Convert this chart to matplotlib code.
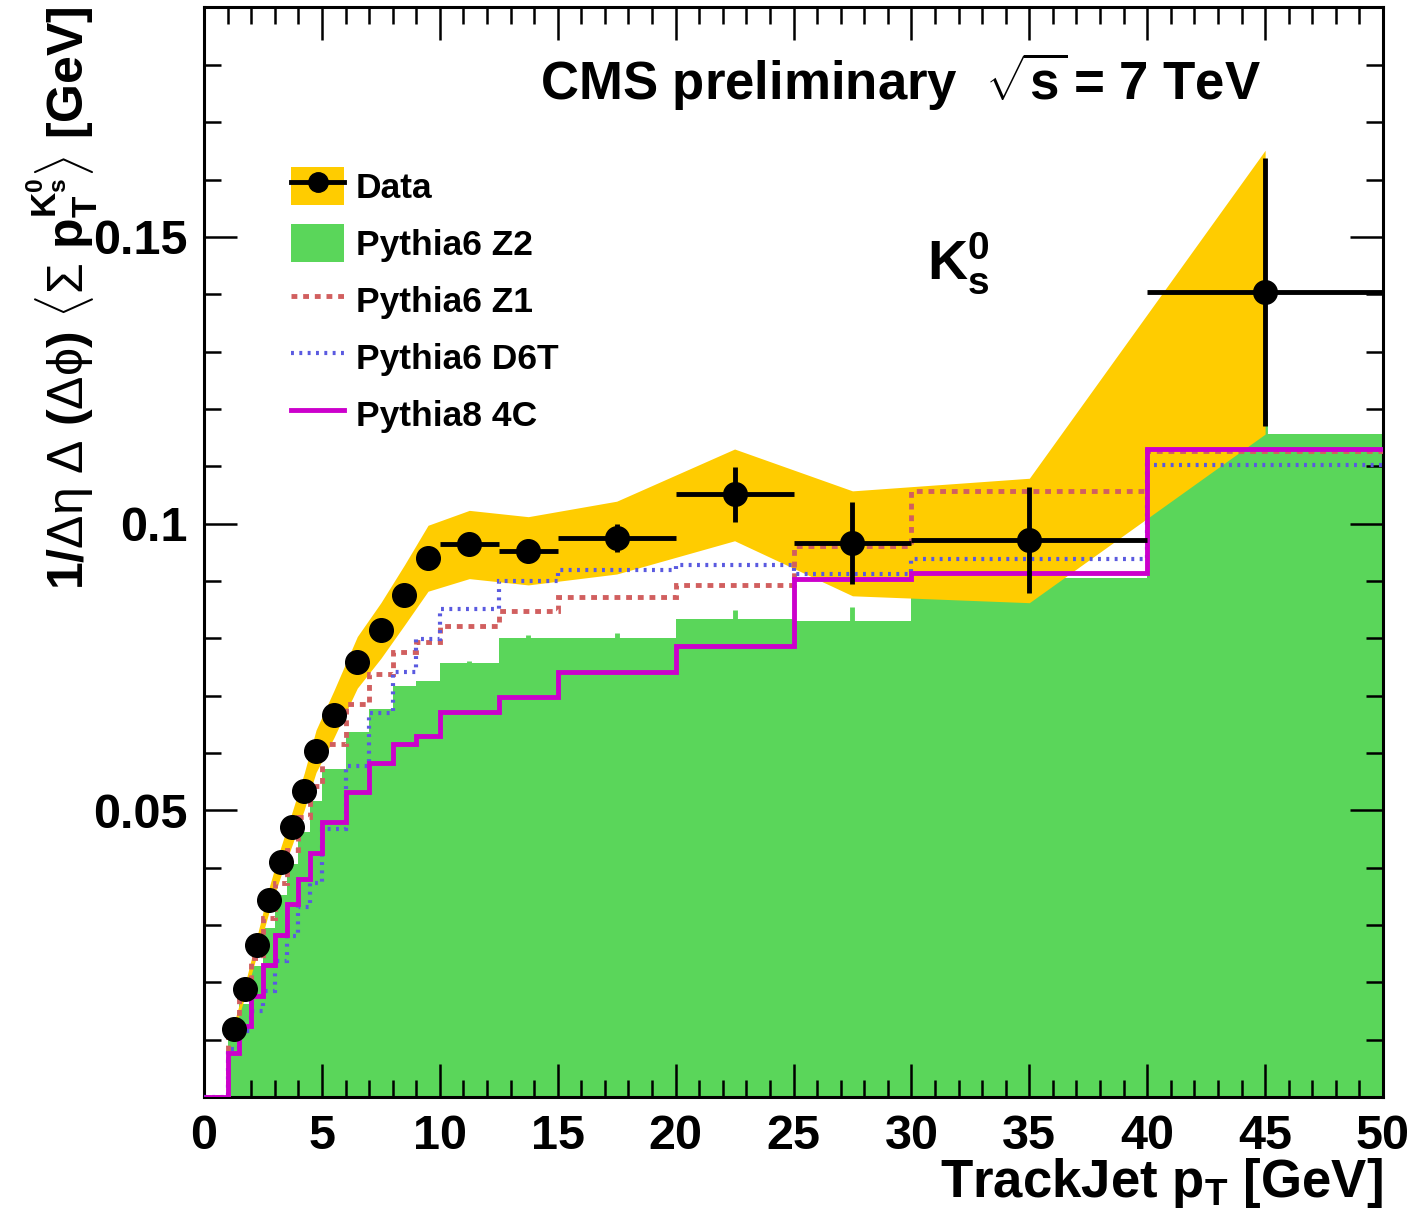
import numpy as np
import matplotlib
matplotlib.use('Agg')
import matplotlib.pyplot as plt
from matplotlib.patches import Patch
from matplotlib.lines import Line2D
from matplotlib.ticker import MultipleLocator

plt.rcParams['font.family'] = ['Liberation Sans', 'DejaVu Sans']
plt.rcParams['font.weight'] = 'bold'
plt.rcParams['mathtext.fontset'] = 'custom'
plt.rcParams['mathtext.rm'] = 'Liberation Sans:weight=normal'
plt.rcParams['mathtext.it'] = 'Liberation Sans:weight=normal'
plt.rcParams['mathtext.bf'] = 'Liberation Sans:weight=bold'
plt.rcParams['mathtext.sf'] = 'Liberation Sans:weight=normal'

# track-jet pT bin edges [GeV]
edges = [0, 1, 1.5, 2, 2.5, 3, 3.5, 4, 4.5, 5, 6, 7, 8, 9, 10, 12.5, 15, 20, 25, 30, 40, 50]

# data (bin centres, values, stat errors, syst band)
data_x = [1.25, 1.75, 2.25, 2.75, 3.25, 3.75, 4.25, 4.75, 5.5, 6.5, 7.5, 8.5, 9.5,
          11.25, 13.75, 17.5, 22.5, 27.5, 35, 45]
data_y = [0.0119, 0.0188, 0.0265, 0.0343, 0.0410, 0.0470, 0.0533, 0.0603, 0.0667, 0.0758,
          0.0814, 0.0875, 0.0940, 0.0965, 0.0953, 0.0975, 0.1051, 0.0966, 0.0971, 0.1404]
data_err = [0.0003, 0.0003, 0.0003, 0.0004, 0.0004, 0.0004, 0.0005, 0.0005, 0.0006, 0.0006,
            0.0007, 0.0007, 0.0008, 0.0010, 0.0012, 0.0025, 0.0048, 0.0071, 0.0092, 0.0234]
band_hi = [0.0126, 0.0199, 0.0281, 0.0364, 0.0435, 0.0499, 0.0565, 0.0640, 0.0708, 0.0803,
           0.0862, 0.0928, 0.0997, 0.1023, 0.1012, 0.1039, 0.1130, 0.1057, 0.1079, 0.1651]
band_lo = [0.0112, 0.0177, 0.0249, 0.0322, 0.0385, 0.0441, 0.0501, 0.0566, 0.0626, 0.0713,
           0.0765, 0.0823, 0.0882, 0.0904, 0.0893, 0.0912, 0.0970, 0.0874, 0.0862, 0.1156]

# MC predictions per bin (first bin 0-1 GeV empty)
z2 = [0, 0.0105, 0.0162, 0.0228, 0.0295, 0.0352, 0.0407, 0.0462, 0.0516, 0.0572, 0.0636,
      0.0676, 0.0717, 0.0726, 0.0757, 0.0800, 0.0801, 0.0833, 0.0830, 0.0905, 0.1156]
z2_err = [0, 0, 0, 0, 0, 0, 0, 0, 0, 0, 0, 0, 0, 0, 0.0003, 0.0005, 0.0008, 0.0017, 0.0025,
          0.0030, 0.0040]
z1 = [0, 0.0110, 0.0172, 0.0242, 0.0312, 0.0373, 0.0430, 0.0488, 0.0542, 0.0615, 0.0686,
      0.0737, 0.0776, 0.0793, 0.0822, 0.0847, 0.0872, 0.0893, 0.0960, 0.1057, 0.1127]
d6t = [0, 0.0083, 0.0115, 0.0150, 0.0185, 0.0237, 0.0281, 0.0331, 0.0374, 0.0467, 0.0577,
       0.0669, 0.0741, 0.0798, 0.0851, 0.0900, 0.0919, 0.0928, 0.0912, 0.0939, 0.1102]
p8_4c = [0, 0.0076, 0.0124, 0.0176, 0.0231, 0.0282, 0.0336, 0.0380, 0.0426, 0.0479, 0.0531,
         0.0583, 0.0616, 0.0629, 0.0672, 0.0698, 0.0742, 0.0786, 0.0903, 0.0913, 0.1130]

c_band = '#ffcc00'
c_z2 = '#5ad65a'
c_z1 = '#d15f5f'
c_d6t = '#5a5ae0'
c_4c = '#cc00cc'

fig = plt.figure(figsize=(14.14, 12.25), dpi=100)
ax = fig.add_axes([0.1443, 0.1045, 0.8338, 0.8894])

edges_arr = np.array(edges)
centres = (edges_arr[:-1] + edges_arr[1:]) / 2

ax.stairs(z2, edges, fill=True, color=c_z2, lw=0, zorder=1)
ax.vlines(centres[1:], np.array(z2[1:]) - np.array(z2_err[1:]),
          np.array(z2[1:]) + np.array(z2_err[1:]), color=c_z2, lw=3.5, zorder=1)
ax.fill_between(data_x, band_lo, band_hi, color=c_band, lw=0, zorder=2)

ax.stairs(z1, edges, baseline=None, color=c_z1, lw=3.5, ls=(0, (1.2, 1.2)), zorder=3)
ax.stairs(d6t, edges, baseline=None, color=c_d6t, lw=3.0, ls=(0, (0.7, 1.3)), zorder=3)
ax.stairs(p8_4c, edges, baseline=None, color=c_4c, lw=3.5, zorder=4)

xerr = np.diff(edges_arr[1:]) / 2
xerr_show = np.where(xerr >= 1.0, xerr, 0)
ax.errorbar(data_x, data_y, xerr=xerr_show, yerr=data_err, fmt='o', color='black',
            ms=17, elinewidth=3.5, capsize=0, zorder=5)

ax.set_xlim(0, 50)
ax.set_ylim(0, 0.19)
ax.xaxis.set_major_locator(MultipleLocator(5))
ax.xaxis.set_minor_locator(MultipleLocator(1))
ax.yaxis.set_minor_locator(MultipleLocator(0.01))
ax.set_yticks([0.05, 0.1, 0.15])
ax.set_yticklabels(['0.05', '0.1', '0.15'])
ax.tick_params(which='both', direction='in', top=True, right=True, width=1.8,
               labelsize=35, pad=12)
ax.tick_params(which='major', length=24)
ax.tick_params(which='minor', length=12)
for s in ax.spines.values():
    s.set_linewidth(2.2)
for lab in ax.get_xticklabels() + ax.get_yticklabels():
    lab.set_fontweight('bold')

fig.text(0.978, 0.034, r'TrackJet p$_{\mathbf{T}}$ [GeV]', ha='right', va='center',
         fontsize=38, fontweight='bold')
fig.text(0.044, 0.995,
         r'$\mathbf{1/}\Delta\eta\ \Delta\ \mathbf{(}\Delta\phi\mathbf{)}\ \langle\Sigma\ '
         r'\mathbf{p}_{\mathbf{T}}^{\mathbf{K_{s}^{0}}}\rangle\ \mathbf{[GeV]}$',
         rotation=90, ha='center', va='top', fontsize=36)

ax.text(0.285, 0.932, r'CMS preliminary  $\sqrt{\mathbf{s}}\,$= 7 TeV', transform=ax.transAxes,
        ha='left', va='center', fontsize=38, fontweight='bold')
ax.text(0.613, 0.765, r'K$_{\mathbf{s}}^{\mathbf{0}}$', transform=ax.transAxes,
        ha='left', va='center', fontsize=40, fontweight='bold')

handles = [
    (Patch(facecolor=c_band, lw=0), Line2D([], [], color='black', marker='o', ms=14, lw=3.5)),
    Patch(facecolor=c_z2, lw=0),
    Line2D([], [], color=c_z1, lw=3.5, ls=(0, (1.2, 1.2))),
    Line2D([], [], color=c_d6t, lw=3.0, ls=(0, (0.7, 1.3))),
    Line2D([], [], color=c_4c, lw=3.5),
]
labels = ['Data', 'Pythia6 Z2', 'Pythia6 Z1', 'Pythia6 D6T', 'Pythia8 4C']
leg = ax.legend(handles, labels, loc='upper left', bbox_to_anchor=(0.062, 0.867),
                frameon=False, fontsize=25.5, handlelength=1.5, handleheight=1.3,
                handletextpad=0.32, labelspacing=0.52, borderaxespad=0)
for t in leg.get_texts():
    t.set_fontweight('bold')

fig.savefig('out.png', dpi=100)
